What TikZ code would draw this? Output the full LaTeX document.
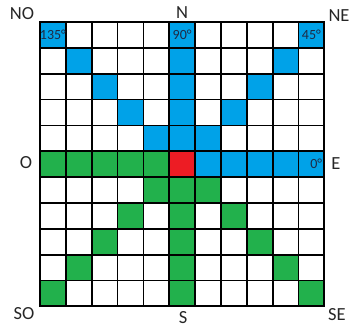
\documentclass[tikz,border=0pt]{standalone}
\usepackage{fontspec}
\setmainfont{Carlito}
\definecolor{cblue}{HTML}{00A2E8}
\definecolor{cgreen}{HTML}{22B14C}
\definecolor{cred}{HTML}{ED1C24}
\definecolor{ctext}{HTML}{1F2A44}
\begin{document}
\begin{tikzpicture}[x=1pt,y=-1pt,
  cell/.style={draw=black,line width=1.8pt},
  dir/.style={font=\fontsize{18.5}{18.5}\selectfont,text=black!85,inner sep=0pt},
  ang/.style={font=\fontsize{14}{14}\selectfont,text=ctext,inner sep=0.5pt}]
\useasboundingbox (0,0) rectangle (350,329);
\def\cs{25.85}
\def\gx{40}
\def\gy{22}
% white grid
\foreach \r in {0,...,10}{
  \foreach \c in {0,...,10}{
    \path[cell,fill=white] ({\gx+\c*\cs},{\gy+\r*\cs}) rectangle ++(\cs,\cs);
  }
}
% blue cells
\foreach \r/\c in {5/6,5/7,5/8,5/9,5/10, 0/5,1/5,2/5,3/5,4/5, 0/10,1/9,2/8,3/7,4/6, 0/0,1/1,2/2,3/3,4/4}{
  \path[cell,fill=cblue] ({\gx+\c*\cs},{\gy+\r*\cs}) rectangle ++(\cs,\cs);
}
% green cells
\foreach \r/\c in {5/0,5/1,5/2,5/3,5/4, 6/5,7/5,8/5,9/5,10/5, 6/4,7/3,8/2,9/1,10/0, 6/6,7/7,8/8,9/9,10/10}{
  \path[cell,fill=cgreen] ({\gx+\c*\cs},{\gy+\r*\cs}) rectangle ++(\cs,\cs);
}
% red centre
\path[cell,fill=cred] ({\gx+5*\cs},{\gy+5*\cs}) rectangle ++(\cs,\cs);
% angle labels
\node[ang] (a135) at ({\gx+0.5*\cs},{\gy+0.5*\cs}) {135°};
\node[ang] (a90) at ({\gx+5.5*\cs},{\gy+0.5*\cs}) {90°};
\node[ang] (a45) at ({\gx+10.5*\cs},{\gy+0.5*\cs}) {45°};
\node[ang,anchor=east] (a0) at ({\gx+11*\cs-1.5},{\gy+5.5*\cs}) {0°};
% direction labels
\node[dir] (NO) at (22,14) {NO};
\node[dir] (N) at (182,13) {N};
\node[dir] (NE) at (339,16) {NE};
\node[dir] (O) at (26,163) {O};
\node[dir] (E) at (336,164) {E};
\node[dir] (SO) at (24,314) {SO};
\node[dir] (S) at (183,318) {S};
\node[dir] (SE) at (337,315) {SE};
\end{tikzpicture}
\end{document}
